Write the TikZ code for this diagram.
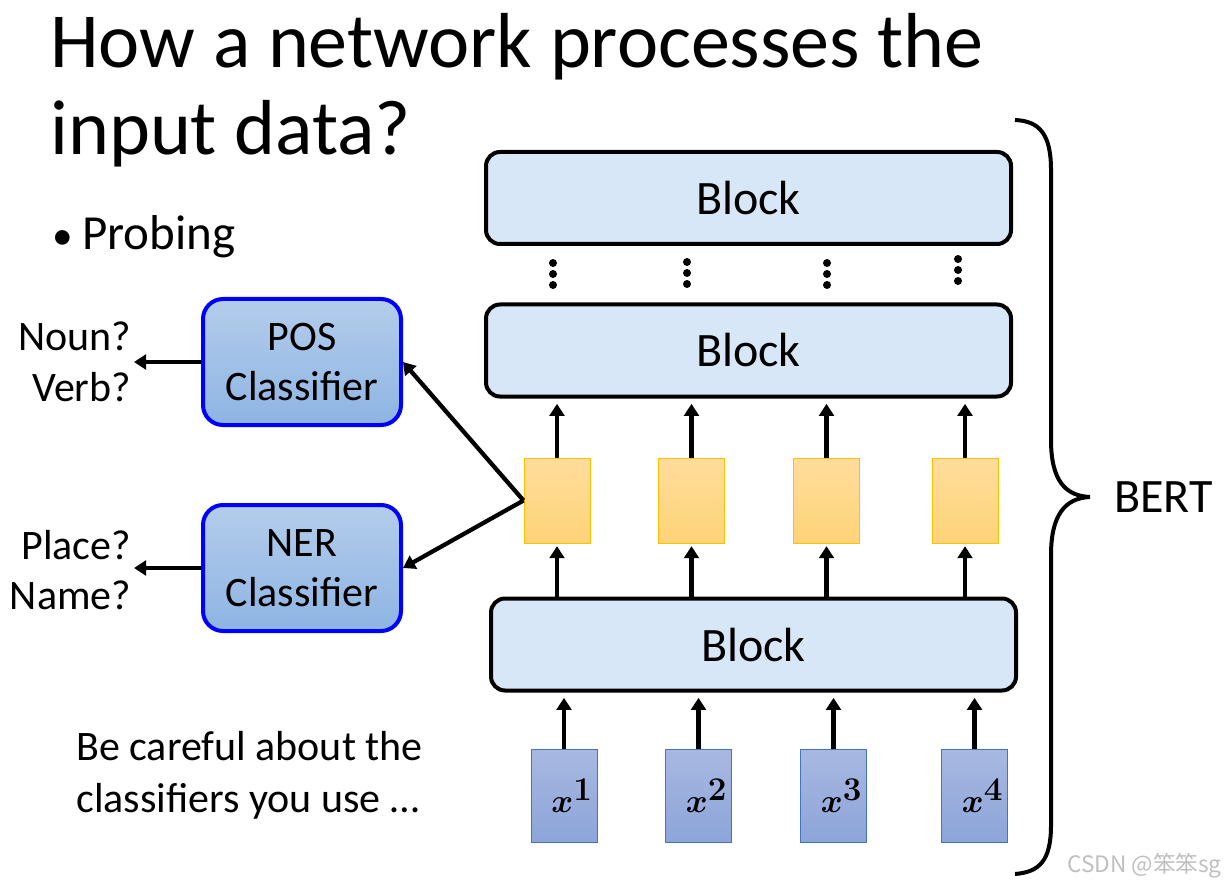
\documentclass[tikz,border=0pt]{standalone}
\usepackage{fontspec}
\usepackage{bm}
\setmainfont{Carlito}
\newfontfamily\cjkfont{Noto Sans CJK SC}
\usetikzlibrary{arrows.meta}

\definecolor{blockfill}{RGB}{216,231,247}
\definecolor{hidtop}{RGB}{255,220,156}
\definecolor{hidbot}{RGB}{254,212,120}
\definecolor{hidline}{RGB}{255,192,0}
\definecolor{intop}{RGB}{168,184,225}
\definecolor{inbot}{RGB}{141,165,217}
\definecolor{inline}{RGB}{68,114,196}
\definecolor{clstop}{RGB}{180,205,235}
\definecolor{clsbot}{RGB}{142,180,227}

\begin{document}
\begin{tikzpicture}[x=0.75pt,y=-0.75pt]
    \tikzset{block/.style = {draw,line width=3pt,rounded corners=10.5pt,fill=blockfill,
        minimum width=393.75pt,minimum height=69pt,font=\fontsize{36}{43}\selectfont}}
    \tikzset{hidden/.style = {draw=hidline,line width=0.75pt,top color=hidtop,bottom color=hidbot,
        minimum width=49.5pt,minimum height=63.75pt}}
    \tikzset{token/.style = {draw=inline,line width=0.75pt,top color=intop,bottom color=inbot,
        minimum width=49.5pt,minimum height=69.75pt}}
    \tikzset{classifier/.style = {draw=blue,line width=3pt,rounded corners=15pt,top color=clstop,
        bottom color=clsbot,minimum width=148.5pt,minimum height=94.5pt,align=center,
        font=\fontsize{31.5}{37.5}\selectfont}}
    \tikzset{outlabel/.style = {align=right,inner sep=2pt,font=\fontsize{31.5}{38}\selectfont}}
    \tikzset{arrowedge/.style = {line width=3.2pt,-{Triangle[length=9pt,width=11pt]}}}
    \useasboundingbox (0,0) rectangle (1226,887);
    % text
    \node[anchor=base west,inner sep=0,font=\fontsize{58.5}{65}\selectfont] (title1) at (50,68) {How a network processes the};
    \node[anchor=base west,inner sep=0,font=\fontsize{58.5}{65}\selectfont] (title2) at (50,155) {input data?};
    \node[anchor=base west,inner sep=0,font=\fontsize{36.75}{44}\selectfont] (probe) at (52,250) {\fontsize{31}{40}\selectfont•\hspace{7pt}\fontsize{36.75}{44}\selectfont Probing};
    \node[anchor=base west,inner sep=0,font=\fontsize{31.5}{39}\selectfont] (note1) at (76,760) {Be careful about the};
    \node[anchor=base west,inner sep=0,font=\fontsize{31.5}{39}\selectfont] (note2) at (76,812) {classifiers you use …};
    % blocks
    \node[block] (blk3) at (748.5,198) {Block};
    \node[block] (blk2) at (748.5,350.5) {Block};
    \node[block] (blk1) at (753.5,644.5) {Block};
    % hidden vectors and inputs
    \foreach \i/\hx/\ix in {1/557/564,2/691.5/698.5,3/826.5/833.5,4/965/974.5} {
        \node[hidden] (h\i) at (\hx,500.5) {};
        \node[token] (in\i) at (\ix,795.5) {};
        \node[font=\fontsize{34}{36}\selectfont] at ([xshift=6pt]in\i.center) {$\bm{x^{\i}}$};
    }
    % dots
    \foreach \dx/\dy in {553/263,687/262,827/263,958/259} {
        \foreach \k in {0,1,2} \fill (\dx,\dy+11*\k) circle (3pt);
    }
    % classifiers
    \node[classifier] (pos) at (302,362) {POS\\Classifier};
    \node[classifier] (ner) at (302,568) {NER\\Classifier};
    \node[outlabel,anchor=east] (posout) at (134,362) {Noun?\\Verb?};
    \node[outlabel,anchor=east] (nerout) at (134,570) {Place?\\Name?};
    %edges
    \foreach \i in {1,...,4} {
        \draw[arrowedge,shorten >=4pt] (in\i.north) -- (in\i.north |- blk1.south);
        \draw[arrowedge,shorten >=2pt] (h\i.north |- blk1.north) -- (h\i.south);
        \draw[arrowedge,shorten >=4pt] (h\i.north) -- (h\i.north |- blk2.south);
    }
    \draw[arrowedge] (h1.west) -- (pos.east);
    \draw[arrowedge] (h1.west) -- (ner.east);
    \draw[arrowedge] (pos.west) -- (posout.east);
    \draw[arrowedge] (ner.west) -- (posout.east |- ner.west);
    % brace
    \draw[line width=3pt] (1015,120) .. controls (1040,121) and (1051,135) .. (1051,170)
        -- (1051,440) .. controls (1051,480) and (1065,496) .. (1090,497)
        .. controls (1065,498) and (1051,515) .. (1051,555)
        -- (1051,825) .. controls (1051,860) and (1040,872) .. (1015,874);
    \node[anchor=base west,inner sep=0,font=\fontsize{36}{43}\selectfont] (bert) at (1114,512) {BERT};
    \node[anchor=base east,inner sep=0,text=black!25,font=\cjkfont\fontsize{17}{20}\selectfont] (mark) at (1222,872) {CSDN @笨笨sg};
\end{tikzpicture}
\end{document}
